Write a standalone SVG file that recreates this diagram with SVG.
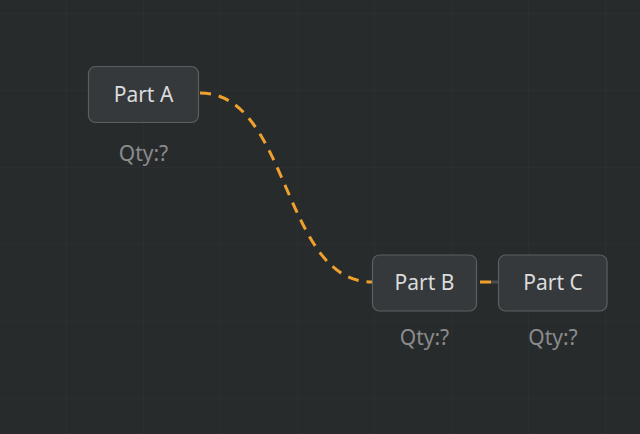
<svg xmlns="http://www.w3.org/2000/svg" width="640" height="434" viewBox="0 0 640 434">
<defs>
<pattern id="grid" width="77" height="77" patternUnits="userSpaceOnUse" x="66" y="13">
<path d="M0 0 H77 M0 0 V77" fill="none" stroke="#303335" stroke-width="1"/>
</pattern>
</defs>
<style>
.node rect{fill:#36393c;stroke:#5c5f61;stroke-width:1.2}
.label{font-family:"Noto Sans","Open Sans",sans-serif;font-size:21px;fill:#dcdcdc;text-anchor:middle}
.qty{font-family:"Noto Sans","Open Sans",sans-serif;font-size:21px;fill:#8a8c8d;text-anchor:middle}
.edge{fill:none;stroke:#f0a02c;stroke-width:3;stroke-dasharray:11 8}
</style>
<rect width="640" height="434" fill="#282b2c"/>
<rect width="640" height="434" fill="url(#grid)"/>
<g id="connectors">
<path class="edge" d="M200,93 C290,93 282,282 372,282"/>
<line x1="491" y1="282" x2="498" y2="282" stroke="#4a4d4f" stroke-width="3"/>
<line class="edge" x1="476" y1="282" x2="498" y2="282" stroke-dashoffset="15"/>
</g>
<g id="partA" class="node">
<rect x="88.5" y="66.5" width="110" height="56" rx="7"/>
<text class="label" x="143.5" y="101.5">Part A</text>
<text class="qty" x="143.5" y="161">Qty:?</text>
</g>
<g id="partB" class="node">
<rect x="372.5" y="255" width="104" height="56" rx="7"/>
<text class="label" x="424.5" y="290">Part B</text>
<text class="qty" x="424.5" y="345">Qty:?</text>
</g>
<g id="partC" class="node">
<rect x="498.5" y="255" width="108.5" height="56" rx="7"/>
<text class="label" x="553" y="290">Part C</text>
<text class="qty" x="553" y="345">Qty:?</text>
</g>
</svg>
